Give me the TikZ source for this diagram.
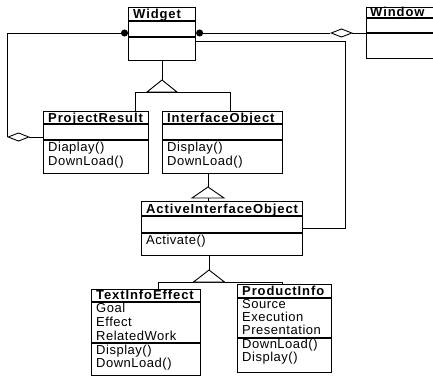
\documentclass[tikz,border=0pt]{standalone}
\usepackage{fontspec}
\setmainfont{Liberation Sans}[LetterSpace=4]
\newfontfamily\ttlfont{Liberation Sans}[LetterSpace=7]
\usetikzlibrary{arrows.meta}
\begin{document}
\begin{tikzpicture}[x=1pt,y=-1pt,
  cls/.style={draw, line width=1.1pt, inner sep=0pt, anchor=north west},
  sep/.style={line width=1.1pt},
  conn/.style={line width=0.9pt},
  ttl/.style={font=\ttlfont\bfseries\fontsize{13}{14}\selectfont, anchor=base west, inner sep=0pt},
  txt/.style={font=\fontsize{13}{14}\selectfont, anchor=base west, inner sep=0pt},
  dot/.style={{Circle[length=7pt,width=7pt]}-},
  agg/.style={-{Diamond[open,length=23pt,width=9pt]}}]
\useasboundingbox (0,0) rectangle (433,377);
\clip (0,0) rectangle (433,377);

% class boxes
\node[cls, minimum width=67pt, minimum height=53pt] (widget) at (128,7) {};
\node[cls, minimum width=80pt, minimum height=51pt] (window) at (366,7) {};
\node[cls, minimum width=105pt, minimum height=62pt] (pr) at (43,111) {};
\node[cls, minimum width=120pt, minimum height=62pt] (io) at (162,111) {};
\node[cls, minimum width=161pt, minimum height=54pt] (aio) at (141,201) {};
\node[cls, minimum width=109pt, minimum height=86pt] (tie) at (91,289) {};
\node[cls, minimum width=94pt, minimum height=88pt] (pi) at (237,284) {};

% separators
\draw[sep] (widget.west |- 0,21) -- (widget.east |- 0,21);
\draw[sep] (widget.west |- 0,37) -- (widget.east |- 0,37);
\draw[sep] (window.west |- 0,18) -- (window.east |- 0,18);
\draw[sep] (window.west |- 0,33) -- (window.east |- 0,33);
\draw[sep] (pr.west |- 0,124) -- (pr.east |- 0,124);
\draw[sep] (pr.west |- 0,140) -- (pr.east |- 0,140);
\draw[sep] (io.west |- 0,124) -- (io.east |- 0,124);
\draw[sep] (io.west |- 0,140) -- (io.east |- 0,140);
\draw[sep] (aio.west |- 0,216) -- (aio.east |- 0,216);
\draw[sep] (aio.west |- 0,233) -- (aio.east |- 0,233);
\draw[sep] (tie.west |- 0,302) -- (tie.east |- 0,302);
\draw[sep] (tie.west |- 0,343) -- (tie.east |- 0,343);
\draw[sep] (pi.west |- 0,298) -- (pi.east |- 0,298);
\draw[sep] (pi.west |- 0,338) -- (pi.east |- 0,338);

% titles
\node[ttl] (widgetT) at (133,19) {Widget};
\node[ttl] (windowT) at (370,16.5) {Window};
\node[ttl] (prT) at (48,122) {ProjectResult};
\node[ttl] (ioT) at (167,122) {InterfaceObject};
\node[ttl] (aioT) at (146,213.5) {ActiveInterfaceObject};
\node[ttl] (tieT) at (96,299.5) {TextInfoEffect};
\node[ttl] (piT) at (242,295.5) {ProductInfo};

% members
\node[txt] (pr1) at (48,151) {Diaplay()};
\node[txt] (pr2) at (48,165) {DownLoad()};
\node[txt] (io1) at (167,151) {Display()};
\node[txt] (io2) at (167,165) {DownLoad()};
\node[txt] (aio1) at (146,244) {Activate()};
\node[txt] (tie1) at (96,312) {Goal};
\node[txt] (tie2) at (96,326) {Effect};
\node[txt] (tie3) at (96,340) {RelatedWork};
\node[txt] (tie4) at (96,354) {Display()};
\node[txt] (tie5) at (96,367) {DownLoad()};
\node[txt] (pi1) at (242,308) {Source};
\node[txt] (pi2) at (242,321) {Execution};
\node[txt] (pi3) at (242,334.5) {Presentation};
\node[txt] (pi4) at (242,348) {DownLoad()};
\node[txt] (pi5) at (242,361) {Display()};

% aggregations
\coordinate (c1) at (7,137);
\draw[conn, dot] (widget.west |- 0,33) -| (c1);
\draw[conn, agg] (pr.west |- c1) -- (c1);
\coordinate (c2) at (330,33);
\draw[conn, dot] (widget.east |- c2) -- (c2);
\draw[conn, agg] (window.west |- c2) -- (c2);
\coordinate (c3) at (345,228);
\draw[conn] (widget.east |- 0,41) -| (c3) -- (aio.east |- c3);

% generalization 1
\coordinate (g1) at (162,80);
\draw[conn] (g1 |- widget.south) -- (g1);
\draw[conn] (135,0 |- pr.north) |- (230,92) -- (230,0 |- io.north);
\draw[conn, fill=white] (g1) -- ++(15,12) -- ++(-30,0) -- cycle;

% generalization 2
\coordinate (g2) at (208,187);
\draw[conn] (g2 |- io.south) -- (g2);
\draw[conn] (208,198) -- (g2 |- aio.north);
\draw[conn, fill=white] (g2) -- ++(16,11) -- ++(-32,0) -- cycle;

% generalization 3
\coordinate (g3) at (209,270);
\draw[conn] (g3 |- aio.south) -- (g3);
\draw[conn] (158,0 |- tie.north) |- (282,282) -- (282,0 |- pi.north);
\draw[conn, fill=white] (g3) -- ++(15.5,12) -- ++(-31,0) -- cycle;
\end{tikzpicture}
\end{document}
